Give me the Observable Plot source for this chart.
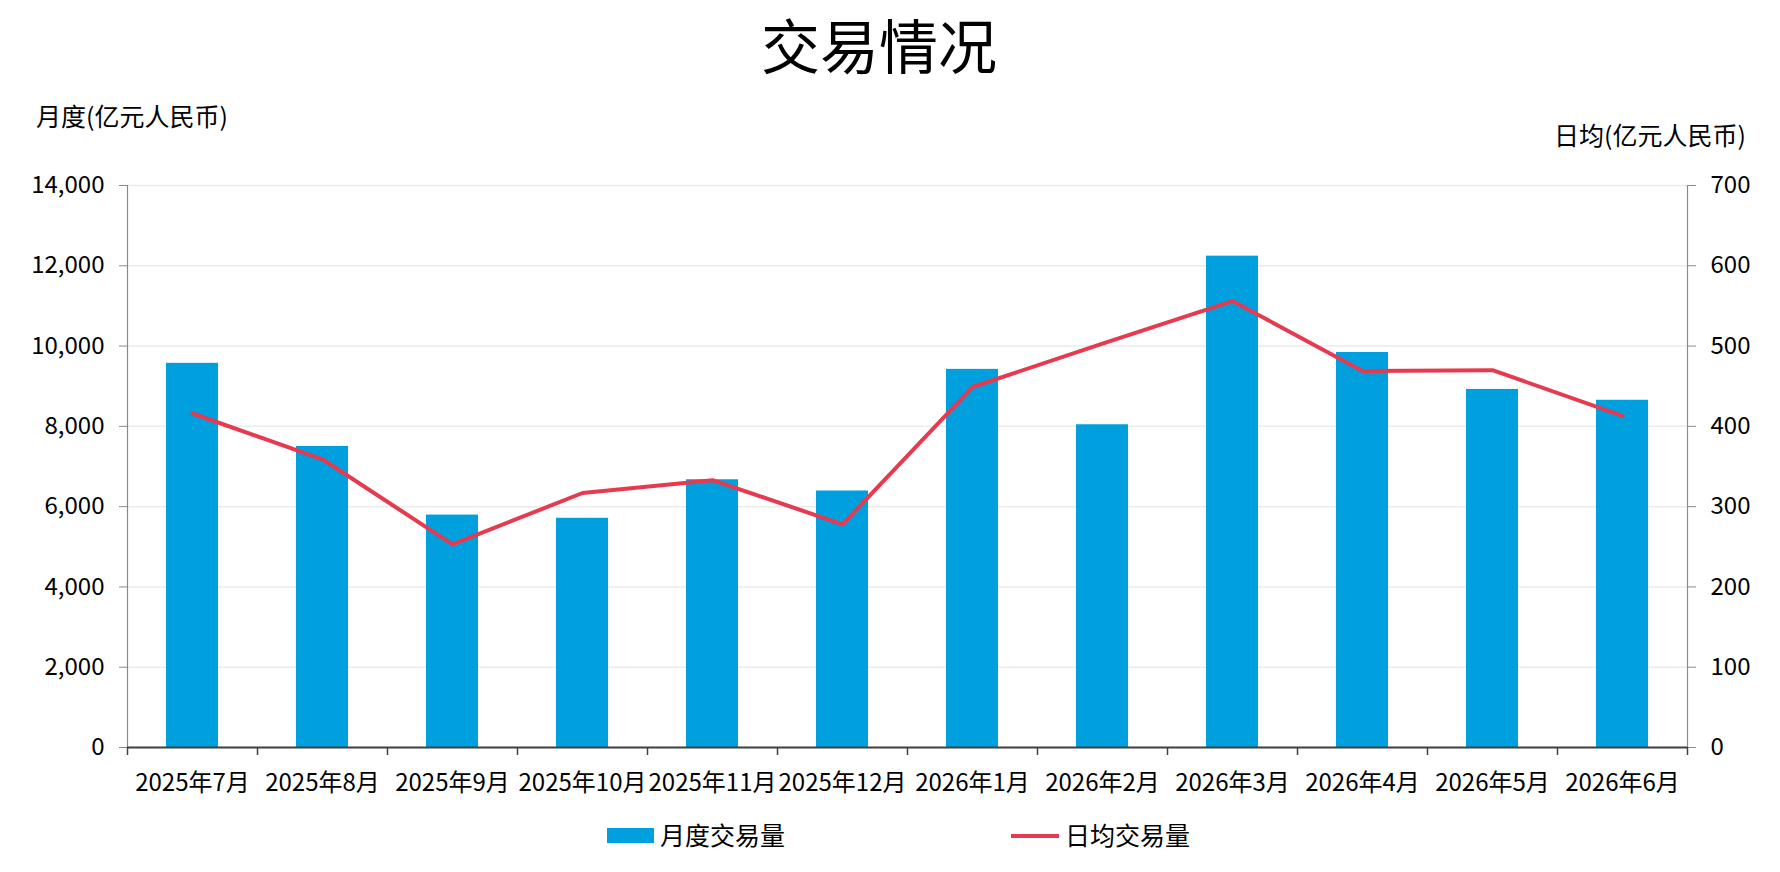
<!DOCTYPE html>
<html>
<head>
<meta charset="utf-8">
<script src="https://cdn.jsdelivr.net/npm/d3@7"></script>
<script src="https://cdn.jsdelivr.net/npm/@observablehq/plot@0.6"></script>
<style>
  body { margin: 0; background: #fff; font-family: "Noto Sans CJK SC", "Noto Sans", sans-serif; color: #000; }
  #wrap { position: relative; width: 1780px; height: 872px; overflow: hidden; }
  .abs { position: absolute; white-space: nowrap; line-height: 1; }
</style>
</head>
<body>
<div id="wrap">
  <div class="abs" style="left:0;width:1758px;top:14px;text-align:center;font-size:59px;">交易情况</div>
  <div class="abs" style="left:36px;top:103px;font-size:25px;">月度(亿元人民币)</div>
  <div class="abs" style="right:34px;top:122px;font-size:25px;">日均(亿元人民币)</div>
  <div id="chart" class="abs" style="left:0;top:150px;"></div>
  <div class="abs" style="left:607px;top:828px;width:47px;height:15px;background:#00a0df;"></div>
  <div class="abs" style="left:660px;top:822px;font-size:25px;">月度交易量</div>
  <div class="abs" style="left:1011px;top:834px;width:48px;height:4px;background:#e53a50;"></div>
  <div class="abs" style="left:1065px;top:822px;font-size:25px;">日均交易量</div>
</div>
<script>
const months = ["2025年7月","2025年8月","2025年9月","2025年10月","2025年11月","2025年12月",
                "2026年1月","2026年2月","2026年3月","2026年4月","2026年5月","2026年6月"];
const monthlyVolume = [9570, 7500, 5790, 5710, 6670, 6390, 9420, 8040, 12240, 9840, 8920, 8650];
const dailyVolume = [416, 359, 253, 317, 333, 278, 449, 503, 556, 469, 470, 413];
const leftTicks = [0, 2000, 4000, 6000, 8000, 10000, 12000, 14000];
const rightTicks = [0, 100, 200, 300, 400, 500, 600, 700];

const ratio = leftTicks[leftTicks.length - 1] / rightTicks[rightTicks.length - 1];
const data = months.map((m, i) => ({month: m, monthly: monthlyVolume[i], daily: dailyVolume[i]}));

const W = 1780, mL = 127, mR = 93;
const halfStep = (W - mL - mR) / months.length / 2;
const barColor = "#00a0df", lineColor = "#e53a50";

const chart = Plot.plot({
  width: W,
  height: 650,
  marginTop: 35,
  marginBottom: 53,
  marginLeft: mL,
  marginRight: mR,
  style: {fontFamily: '"Noto Sans CJK SC", "Noto Sans", sans-serif', fontSize: "24px", color: "#000", background: "#fff"},
  x: {domain: months, paddingInner: 0.6, paddingOuter: 0.3, axis: null},
  y: {domain: [0, 14000], axis: null},
  marks: [
    Plot.gridY(leftTicks, {stroke: "#ebebeb", strokeOpacity: 1, strokeWidth: 1.5}),
    Plot.barY(data, {x: "month", y: "monthly", fill: barColor}),
    Plot.line(data, {x: "month", y: d => d.daily * ratio, stroke: lineColor, strokeWidth: 4, strokeLinejoin: "round"}),
    Plot.ruleX([months[0]], {dx: -halfStep, stroke: "#8a8a8a", strokeWidth: 1.2}),
    Plot.ruleX([months[months.length - 1]], {dx: halfStep, stroke: "#8a8a8a", strokeWidth: 1.2}),
    Plot.ruleY([0], {stroke: "#404040", strokeWidth: 2}),
    Plot.axisY(leftTicks, {anchor: "left", tickSize: 8, tickPadding: 15, stroke: "#8a8a8a", fill: "#000",
      tickFormat: d3.format(","), fontSize: 24, label: null}),
    Plot.axisY(leftTicks, {anchor: "right", tickSize: 8, tickPadding: 15, stroke: "#8a8a8a", fill: "#000",
      tickFormat: d => String(rightTicks[leftTicks.indexOf(d)]), fontSize: 24, label: null}),
    Plot.axisX(months, {anchor: "bottom", tickSize: 8, tickFormat: () => "", dx: -halfStep, stroke: "#404040", strokeWidth: 1.5, label: null}),
    Plot.axisX([months[months.length - 1]], {anchor: "bottom", tickSize: 8, tickFormat: () => "", dx: halfStep, stroke: "#404040", strokeWidth: 1.5, label: null}),
    Plot.axisX(months, {anchor: "bottom", tickSize: 0, tickPadding: 26, fontSize: 24, fill: "#000", label: null})
  ]
});
document.getElementById("chart").appendChild(chart);
</script>
</body>
</html>
